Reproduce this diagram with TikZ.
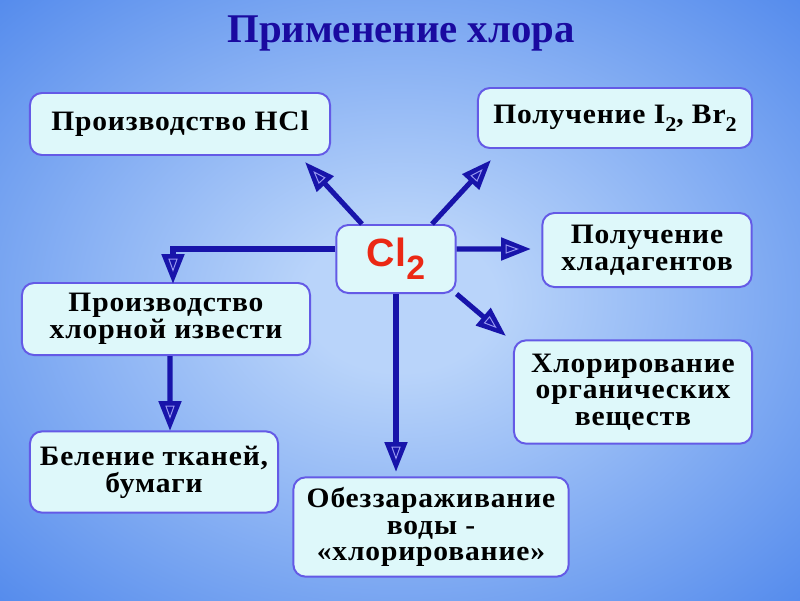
\documentclass[tikz,border=0pt]{standalone}
\usepackage{fontspec}
\setmainfont{Liberation Serif}
\newfontfamily\boxfont{Liberation Serif}[FakeStretch=1.05,LetterSpace=3]
\newfontfamily\symfont{Liberation Sans}
\usetikzlibrary{arrows.meta,decorations.markings}

\definecolor{bglight}{RGB}{185,212,250}
\definecolor{bgdark}{RGB}{36,104,230}
\definecolor{boxfill}{RGB}{222,248,250}
\definecolor{boxline}{RGB}{100,90,230}
\definecolor{arrowblue}{RGB}{24,20,170}
\definecolor{tipline}{RGB}{150,150,240}
\definecolor{titleblue}{RGB}{26,10,160}
\definecolor{clred}{RGB}{235,40,20}

\pgfdeclareradialshading{slidebg}{\pgfpoint{0bp}{0bp}}{color(0bp)=(bglight); color(6bp)=(bglight); color(50bp)=(bgdark)}

\newcommand{\lowtwo}{\raisebox{-0.28em}{\fontsize{15}{15}\selectfont 2}}

\tikzset{
  box/.style={draw=boxline, line width=1.4pt, fill=boxfill, rounded corners=0.3cm,
    align=center, inner sep=0pt, font={\boxfont\bfseries\fontsize{20}{19}\selectfont}},
  arr/.style={draw=arrowblue, line width=3.6pt, -{Triangle[length=0.75cm,width=0.55cm]},
    postaction={decorate}, decoration={markings, mark=at position -0.48cm with
      {\draw[tipline, line width=0.7pt, densely dotted, solid] (0.14cm,0) -- (-0.14cm,0.1cm) -- (-0.14cm,-0.1cm) -- cycle;}}}
}

\begin{document}
\begin{tikzpicture}[x=0.025cm, y=-0.025cm]
\shade[shading=slidebg] (0,0) rectangle (800,600);
\useasboundingbox (0,0) rectangle (800,600);

\node[anchor=base, text=titleblue, font={\bfseries\fontsize{29}{29}\selectfont}] (title) at (401,42) {Применение хлора};

% boxes
\node[box, minimum width=7.5cm, minimum height=1.55cm] (hcl) at (180,124) {Производство HCl};
\node[box, minimum width=6.85cm, minimum height=1.5cm] (halo) at (615,118) {Получение I\lowtwo, Br\lowtwo};
\node[box, minimum width=2.98cm, minimum height=1.7cm, text=clred,
      font={\symfont\bfseries\fontsize{28}{28}\selectfont}] (cl) at (396,259) {Cl\raisebox{-9pt}{\fontsize{24}{24}\selectfont 2}};
\node[box, minimum width=5.23cm, minimum height=1.85cm] (cold) at (647,250) {Получение\\хладагентов};
\node[box, minimum width=7.2cm, minimum height=1.8cm] (lime) at (166,319) {Производство\\хлорной извести};
\node[box, minimum width=5.95cm, minimum height=2.58cm] (org) at (633,392) {Хлорирование\\органических\\веществ};
\node[box, minimum width=6.2cm, minimum height=2.03cm] (bleach) at (154,472) {Беление тканей,\\бумаги};
\node[box, minimum width=6.88cm, minimum height=2.48cm] (water) at (431,527) {Обеззараживание\\воды -\\«хлорирование»};

% arrow ends
\coordinate (hclTip) at (305,162);
\coordinate (haloTip) at (491,160);
\coordinate (coldTip) at (531,249);
\coordinate (orgTip) at (506,336);
\coordinate (waterTip) at (396,472);
\coordinate (limeTip) at (173,284);
\coordinate (bleachTip) at (170,431);

\draw[arr] ([xshift=-0.85cm]cl.north) -- (hclTip);
\draw[arr] ([xshift=0.9cm]cl.north) -- (haloTip);
\draw[arr] ([yshift=0.25cm]cl.east) -- (coldTip);
\draw[arr] (cl.south east) -- (orgTip);
\draw[arr] (cl.south) -- (waterTip);
\draw[arr] ([yshift=0.25cm]cl.west) -| (limeTip);
\draw[arr] ([xshift=0.1cm]lime.south) -- (bleachTip);
\end{tikzpicture}
\end{document}
